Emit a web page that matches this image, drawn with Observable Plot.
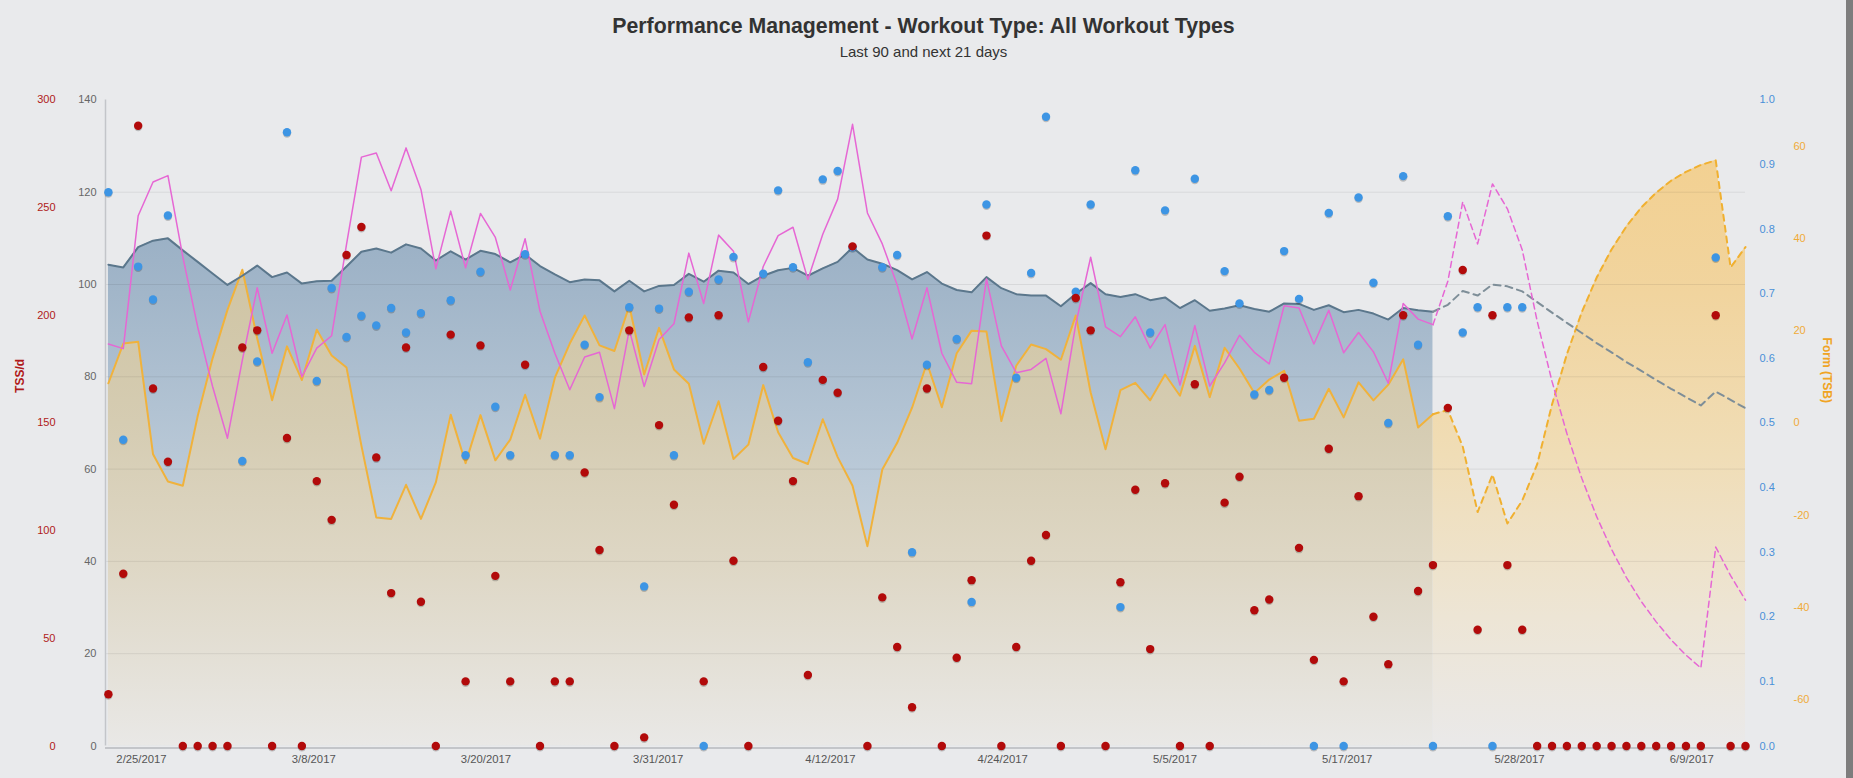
<!DOCTYPE html>
<html><head><meta charset="utf-8">
<script src="https://cdn.jsdelivr.net/npm/d3@7"></script>
<script src="https://cdn.jsdelivr.net/npm/@observablehq/plot@0.6"></script>
<style>
html,body{margin:0;padding:0;background:#e9eaec;overflow:hidden;}
#chart{position:relative;width:1853px;height:778px;}
#strip{position:absolute;left:1846px;top:0;width:7px;height:778px;background:#7d7d7d;}
</style></head><body>
<div id="chart"></div>
<div id="strip"></div>
<script>
// ---------- data ----------
const startDate = "2017-02-23";          // first day shown
const pastCount = 90;                    // "Last 90 ... days"
const titleText = "Performance Management - Workout Type: All Workout Types";
const subtitleText = "Last 90 and next 21 days";

// TSS per day (red dots)
const tss = [24,80,288,166,132,0,0,0,0,185,193,0,143,0,123,105,228,241,134,71,185,67,0,191,30,186,79,30,177,0,
30,30,127,91,0,193,4,149,112,199,30,200,86,0,176,151,123,33,170,164,232,0,69,46,18,166,0,41,77,237,
0,46,86,98,0,208,193,0,76,119,45,122,0,168,0,113,125,63,68,171,92,40,138,30,116,60,38,200,72,84,
157,221,54,200,84,54,0,0,0,0,0,0,0,0,0,0,0,0,200,0,0];

// Intensity Factor per day (blue dots), null = none
const intensity = [0.857,0.474,0.742,0.691,0.821,null,null,null,null,0.441,0.595,null,0.950,null,0.565,0.709,0.633,0.666,0.651,0.678,
0.640,0.670,null,0.690,0.450,0.734,0.525,0.450,0.761,null,0.450,0.450,0.621,0.540,null,0.679,0.247,0.677,0.450,0.703,
0.000,0.722,0.757,null,0.731,0.860,0.741,0.594,0.877,0.890,0.772,null,0.741,0.760,0.300,0.590,null,0.630,0.223,0.838,
null,0.570,0.732,0.974,null,0.703,0.838,null,0.215,0.891,0.640,0.829,null,0.878,null,0.735,0.685,0.544,0.551,0.766,
0.692,0.000,0.825,0.000,0.849,0.717,0.500,0.882,0.621,0.000,0.820,0.640,0.679,0.000,0.679,0.679,null,null,null,null,
null,null,null,null,null,null,null,null,0.756,null,null];

// Fitness (CTL)
const ctl = [104.3,103.7,108.1,109.5,110.0,107.4,104.9,102.4,99.9,101.9,104.1,101.6,102.6,100.2,100.7,100.8,103.9,107.1,107.8,106.9,
108.7,107.8,105.2,107.2,105.4,107.3,106.6,104.8,106.5,104.0,102.2,100.5,101.1,100.9,98.5,100.8,98.5,99.7,99.9,102.3,
100.6,103.0,102.6,100.1,101.9,103.1,103.6,101.9,103.5,104.9,108.0,105.4,104.5,103.1,101.1,102.7,100.2,98.8,98.3,101.6,
99.2,97.9,97.6,97.6,95.3,98.0,100.3,97.9,97.3,97.9,96.6,97.2,94.9,96.6,94.3,94.8,95.5,94.7,94.1,95.9,
95.8,94.5,95.5,94.0,94.5,93.7,92.4,94.9,94.4,94.1,95.6,98.6,97.6,100.0,99.6,98.5,96.2,93.9,91.7,89.5,
87.3,85.3,83.2,81.3,79.3,77.4,75.6,73.8,76.8,75.0,73.2];

// Fatigue (ATL)
const atl = [87.1,86.1,114.9,122.2,123.6,106.0,90.8,77.9,66.7,83.6,99.3,85.1,93.4,80.0,86.2,88.9,108.7,127.6,128.5,120.3,
129.6,120.6,103.4,115.9,103.6,115.4,110.2,98.8,109.9,94.2,85.1,77.2,84.3,85.3,73.1,90.2,77.9,88.1,91.5,106.8,
95.9,110.7,107.2,91.9,103.9,110.6,112.4,101.1,110.9,118.5,134.7,115.5,108.8,99.9,88.2,99.3,85.1,78.8,78.5,101.2,
86.7,80.9,81.6,84.0,72.0,91.4,105.9,90.8,88.7,93.0,86.2,91.3,78.2,91.1,78.0,83.0,89.0,85.3,82.8,95.4,
94.9,87.1,94.4,85.2,89.6,85.4,78.6,95.9,92.5,91.3,100.7,117.9,108.8,121.8,116.4,107.5,92.1,79.0,67.7,58.0,
49.7,42.6,36.5,31.3,26.9,23.0,19.7,16.9,43.1,36.9,31.6];

// Form (TSB)
const tsb = [8.6,17.2,17.6,-6.8,-12.7,-13.6,1.5,14.0,24.5,33.2,18.3,4.9,16.6,9.3,20.2,14.6,12.0,-4.9,-20.5,-20.8,
-13.4,-20.8,-12.9,1.8,-8.7,1.7,-8.1,-3.6,6.1,-3.4,9.8,17.2,23.3,16.8,15.6,25.4,10.5,20.6,11.6,8.5,
-4.5,4.7,-7.8,-4.7,8.2,-2.0,-7.6,-8.9,0.8,-7.4,-13.6,-26.7,-10.1,-4.3,3.3,13.0,3.4,15.1,20.0,19.8,
0.4,12.4,17.0,16.0,13.7,23.3,6.6,-5.7,7.1,8.7,4.9,10.5,5.9,16.7,5.6,16.3,11.8,6.5,9.4,11.3,
0.5,0.9,7.4,1.2,8.8,4.9,8.3,13.8,-1.0,1.9,2.8,-5.1,-19.3,-11.2,-21.8,-16.8,-9.0,4.0,14.9,24.0,
31.5,37.6,42.6,46.7,49.9,52.5,54.4,55.9,56.9,33.7,38.1];

// axis ticks
const xTickTimes = [1488e9,1489e9,1490e9,1491e9,1492e9,1493e9,1494e9,1495e9,1496e9,1497e9];
const xTickLabels = ["2/25/2017","3/8/2017","3/20/2017","3/31/2017","4/12/2017","4/24/2017","5/5/2017","5/17/2017","5/28/2017","6/9/2017"];
const fitnessTicks = [0,20,40,60,80,100,120,140];
const tssTicks = [0,50,100,150,200,250,300];
const ifTicks = [0,0.1,0.2,0.3,0.4,0.5,0.6,0.7,0.8,0.9,1.0];
const tsbTicks = [-60,-40,-20,0,20,40,60];

// ---------- table ----------
const DAY = 864e5;
const start = new Date(startDate + "T00:00:00Z");
const rows = tss.map((v, i) => ({
  date: new Date(start.getTime() + i * DAY),
  tss: v, ifv: intensity[i], ctl: ctl[i], atl: atl[i], tsb: tsb[i]
}));
const past = rows.slice(0, pastCount);
const future = rows.slice(pastCount - 1);
const ifRows = rows.filter(d => d.ifv != null);

// secondary axes mapped onto the 0..140 fitness scale
const TSS_MAX = 300, FIT_MAX = 140, TSB_MIN = -70;
const fromTss = v => v * FIT_MAX / TSS_MAX;
const fromIf = v => v * FIT_MAX;
const fromTsb = v => v - TSB_MIN;

const font = "'Liberation Sans', Arial, Helvetica, sans-serif";
const xMin = new Date(start.getTime() - 0.195 * DAY);

const chart = Plot.plot({
  width: 1853, height: 778,
  marginLeft: 105, marginRight: 108, marginTop: 99.4, marginBottom: 32.5,
  style: {background: "#e9eaec", fontFamily: font, fontSize: "11px", overflow: "visible"},
  x: {type: "utc", domain: [xMin, rows[rows.length - 1].date], axis: null},
  y: {domain: [0, FIT_MAX], axis: null},
  marks: [
    // areas
    Plot.areaY(past, {x: "date", y: "ctl", fill: "url(#gBlue)"}),
    Plot.areaY(past, {x: "date", y: d => fromTsb(d.tsb), fill: "url(#gTan)"}),
    Plot.areaY(future, {x: "date", y: d => fromTsb(d.tsb), fill: "url(#gOrange)"}),
    // grid
    Plot.ruleY(fitnessTicks.filter(v => v > 0 && v < FIT_MAX), {stroke: "#000", strokeOpacity: 0.075, strokeWidth: 1}),
    Plot.ruleX([xMin], {stroke: "#c3c5c9", strokeWidth: 1.5}),
    Plot.ruleY([0], {stroke: "#c3c5c9", strokeWidth: 2, dy: 2}),
    // past lines
    Plot.lineY(past, {x: "date", y: d => fromTsb(d.tsb), stroke: "#f0b23c", strokeWidth: 2}),
    Plot.lineY(past, {x: "date", y: "ctl", stroke: "#5b778c", strokeWidth: 2}),
    Plot.lineY(past, {x: "date", y: "atl", stroke: "#e667d4", strokeWidth: 1.5}),
    // future lines
    Plot.lineY(future, {x: "date", y: d => fromTsb(d.tsb), stroke: "#f0b030", strokeWidth: 2, strokeDasharray: "6,5"}),
    Plot.lineY(future, {x: "date", y: "ctl", stroke: "#7e8e98", strokeWidth: 2, strokeDasharray: "7,5"}),
    Plot.lineY(future, {x: "date", y: "atl", stroke: "#e667d4", strokeWidth: 1.5, strokeDasharray: "6,4"}),
    // dots (shadow + dot)
    Plot.dot(ifRows, {x: "date", y: d => fromIf(d.ifv), r: 4.2, fill: "rgba(0,0,0,0.2)", dy: 1.3}),
    Plot.dot(rows, {x: "date", y: d => fromTss(d.tss), r: 4.2, fill: "rgba(0,0,0,0.2)", dy: 1.3}),
    Plot.dot(ifRows, {x: "date", y: d => fromIf(d.ifv), r: 4.2, fill: "#3d95e4"}),
    Plot.dot(rows, {x: "date", y: d => fromTss(d.tss), r: 4.2, fill: "#b20a0a"}),
    // x axis labels
    Plot.text(xTickTimes, {x: d => new Date(d), text: (d, i) => xTickLabels[i], frameAnchor: "bottom", dy: 16.5, fill: "#555", fontSize: 11.3}),
    // left axes
    Plot.text(fitnessTicks, {y: d => d, text: d => String(d), frameAnchor: "left", dx: -9, textAnchor: "end", fill: "#666", fontSize: 11}),
    Plot.text(tssTicks, {y: d => fromTss(d), text: d => String(d), frameAnchor: "left", dx: -50, textAnchor: "end", fill: "#b01a1a", fontSize: 11}),
    Plot.text(["TSS/d"], {frameAnchor: "left", dx: -85, dy: -30, rotate: -90, fill: "#b01a1a", fontWeight: "bold", fontSize: 12}),
    // right axes
    Plot.text(ifTicks, {y: d => fromIf(d), text: d => d.toFixed(1), frameAnchor: "right", dx: 14, textAnchor: "start", fill: "#4a90d8", fontSize: 11}),
    Plot.text(tsbTicks, {y: d => fromTsb(d), text: d => String(d), frameAnchor: "right", dx: 48, textAnchor: "start", fill: "#f0aa38", fontSize: 11}),
    Plot.text(["Form (TSB)"], {frameAnchor: "right", dx: 81, dy: -20, rotate: 90, fill: "#f0a424", fontWeight: "bold", fontSize: 12}),
    // titles
    Plot.text([titleText], {frameAnchor: "top", dx: -2, dy: -67.4, lineAnchor: "bottom", fill: "#333", fontWeight: "bold", fontSize: 21.3}),
    Plot.text([subtitleText], {frameAnchor: "top", dx: -2, dy: -42.7, lineAnchor: "bottom", fill: "#333", fontSize: 15})
  ]
});

// gradients
const defs = d3.select(chart).insert("defs", ":first-child");
function grad(id, stops) {
  const g = defs.append("linearGradient").attr("id", id).attr("gradientUnits", "userSpaceOnUse")
    .attr("x1", 0).attr("x2", 0).attr("y1", 99.4).attr("y2", 745.5);
  stops.forEach(([o, c]) => g.append("stop").attr("offset", o).attr("stop-color", c));
}
grad("gBlue", [[0, "#8aa4bd"], [0.3, "#a2b6c9"], [0.6, "#bccbd9"], [1, "#dde3e8"]]);
grad("gTan", [[0, "#cdbf98"], [0.25, "#cfc4a3"], [0.5, "#d5ccb2"], [0.72, "#ded7c5"], [1, "#e9e8e6"]]);
grad("gOrange", [[0, "#f3cf8c"], [0.3, "#f1d49e"], [0.55, "#f0ddb6"], [0.8, "#ede5d5"], [1, "#eae9e9"]]);

document.getElementById("chart").appendChild(chart);
</script>
</body></html>
